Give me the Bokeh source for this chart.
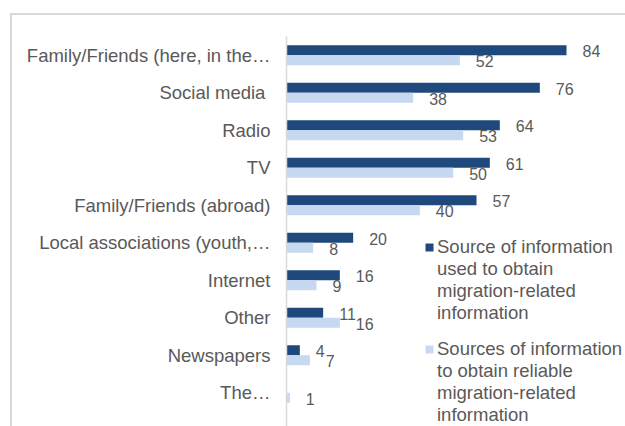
from bokeh.plotting import figure
from bokeh.models import (ColumnDataSource, Range1d, FixedTicker, Legend, LegendItem,
                          InlineStyleSheet)
from bokeh.embed import file_html
from bokeh.resources import INLINE
from bokeh.core.properties import value

categories = [
    "Family/Friends (here, in the…",
    "Social media ",
    "Radio",
    "TV",
    "Family/Friends (abroad)",
    "Local associations (youth,…",
    "Internet",
    "Other",
    "Newspapers",
    "The…",
]
used_values = [84, 76, 64, 61, 57, 20, 16, 11, 4, 0]
reliable_values = [52, 38, 53, 50, 40, 8, 9, 16, 7, 1]
series_lines = [
    ["Source of information", "used to obtain", "migration-related", "information"],
    ["Sources of information", "to obtain reliable", "migration-related", "information"],
]

DARK = "#1F497D"
LIGHT = "#C6D9F1"
TEXT = "#595959"
GRID = "#D9D9D9"
FONT = "Liberation Sans"

n = len(categories)
pos = list(range(n))
BAR_H = 0.267

src = ColumnDataSource(dict(
    pos=pos,
    used=used_values,
    reliable=reliable_values,
    y_used=[q - BAR_H / 2 for q in pos],
    y_rel=[q + BAR_H / 2 for q in pos],
    used_lbl=[str(v) if v > 0 else "" for v in used_values],
    rel_lbl=[str(v) if v > 0 else "" for v in reliable_values],
))

p = figure(width=625, height=426,
           x_range=Range1d(0, 101.7), y_range=Range1d(n - 0.1, -0.5),
           output_backend="svg", toolbar_location=None,
           x_axis_location=None,
           min_border_left=286, min_border_top=36,
           min_border_right=0, min_border_bottom=0)
p.outline_line_color = None
p.background_fill_color = "white"
p.border_fill_color = "white"
p.xgrid.visible = False
p.ygrid.visible = False

yaxis = p.yaxis[0]
yaxis.ticker = FixedTicker(ticks=pos)
yaxis.major_label_overrides = {i: c for i, c in enumerate(categories)}
yaxis.major_tick_line_color = None
yaxis.minor_tick_line_color = None
yaxis.axis_line_color = GRID
yaxis.axis_line_width = 1.5
yaxis.major_label_standoff = 10
yaxis.major_label_text_font = FONT
yaxis.major_label_text_font_size = "18.5px"
yaxis.major_label_text_color = TEXT

r1 = p.hbar(y="y_used", left=0, right="used", height=BAR_H,
            fill_color=DARK, line_color=None, source=src)
r2 = p.hbar(y="y_rel", left=0, right="reliable", height=BAR_H,
            fill_color=LIGHT, line_color=None, source=src)
blank = p.hbar(y=[], left=[], right=[], height=BAR_H,
               fill_alpha=0, line_alpha=0)

p.text(x="used", y="y_used", text="used_lbl", x_offset=16, y_offset=1,
       text_align="left", text_baseline="middle",
       text_font=value(FONT), text_font_size="16px", text_color=TEXT, source=src)
p.text(x="reliable", y="y_rel", text="rel_lbl", x_offset=16, y_offset=1,
       text_align="left", text_baseline="middle",
       text_font=value(FONT), text_font_size="16px", text_color=TEXT, source=src)


def make_legend(lines, renderer, loc):
    items = [LegendItem(label=lines[0], renderers=[renderer])]
    items += [LegendItem(label=t, renderers=[blank]) for t in lines[1:]]
    return Legend(
        items=items, location=loc, padding=0, margin=0, spacing=0,
        glyph_width=10, glyph_height=10, label_standoff=3, label_height=20,
        border_line_color=None, background_fill_alpha=0,
        label_text_font=FONT, label_text_font_size="18.5px",
        label_text_color=TEXT, label_text_line_height=1.0,
    )


p.add_layout(make_legend(series_lines[0], r1, (138, 102)))
p.add_layout(make_legend(series_lines[1], r2, (138, 0)))

p.stylesheets = [InlineStyleSheet(css=(
    ":host::after{content:'';position:absolute;left:10px;top:13px;right:0;bottom:0;"
    "border-top:2px solid #D9D9D9;border-left:2px solid #D9D9D9;pointer-events:none;}"
))]

open("out.html", "w").write(file_html(p, INLINE))
